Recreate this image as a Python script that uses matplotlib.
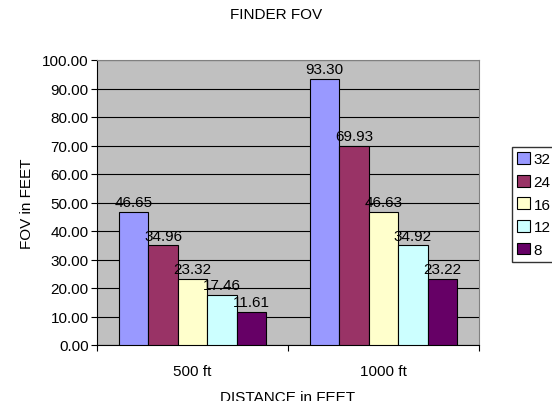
import numpy as np
from matplotlib import pyplot as plt

categories = ["500 ft", "1000 ft"]
series = ["32", "24", "16", "12", "8"]
fov_32 = [46.65, 93.30]
fov_24 = [34.96, 69.93]
fov_16 = [23.32, 46.63]
fov_12 = [17.46, 34.92]
fov_8 = [11.61, 23.22]
values = [fov_32, fov_24, fov_16, fov_12, fov_8]
colors = ["#9999FF", "#993366", "#FFFFCC", "#CCFFFF", "#660066"]

plt.rcParams["font.family"] = ["Liberation Sans", "DejaVu Sans"]
plt.rcParams["font.size"] = 11

fig = plt.figure(figsize=(5.52, 4.02), dpi=100)
ax = fig.add_axes([97/552, 1-346/402, 382/552, 285/402])
ax.set_facecolor("#C0C0C0")

x = np.arange(len(categories))
w = 0.154
for i in range(len(series)):
    pos = x + (i - 2) * w
    ax.bar(pos, values[i], w, color=colors[i], edgecolor="black", linewidth=0.8,
           label=series[i], zorder=3)
    for px, v in zip(pos, values[i]):
        ax.text(px, v + 1.0, "%.2f" % v, ha="center", va="bottom", zorder=4)

ax.set_xlim(-0.5, 1.5)
ax.set_ylim(0, 100)
ax.set_yticks(np.arange(0, 101, 10))
ax.set_yticklabels(["%.2f" % t for t in np.arange(0, 101, 10)])
ax.yaxis.grid(True, color="black", linewidth=0.8, zorder=0)
ax.set_axisbelow(True)

ax.set_xticks([-0.5, 0.5, 1.5])
ax.set_xticklabels([])
ax.set_xticks(x, minor=True)
ax.set_xticklabels(categories, minor=True)
ax.tick_params(axis="x", which="minor", length=0, pad=14)
ax.tick_params(axis="x", which="major", length=4, direction="out")
ax.tick_params(axis="y", length=4, direction="out", pad=2)

for s in ["top", "right"]:
    ax.spines[s].set_color("#808080")
for s in ["left", "bottom"]:
    ax.spines[s].set_color("black")

ax.set_xlabel("DISTANCE in FEET", labelpad=8)
ax.set_ylabel("FOV in FEET", labelpad=6)
fig.suptitle("FINDER FOV", y=1-8/402, va="top", fontsize=11)

fig.legend(loc="upper left", bbox_to_anchor=(512/552, 1-148/402), frameon=True,
           fancybox=False, edgecolor="black", handlelength=0.8, handleheight=0.8,
           handletextpad=0.25, borderpad=0.35, labelspacing=0.55, borderaxespad=0)

plt.savefig("out.png", dpi=100)
